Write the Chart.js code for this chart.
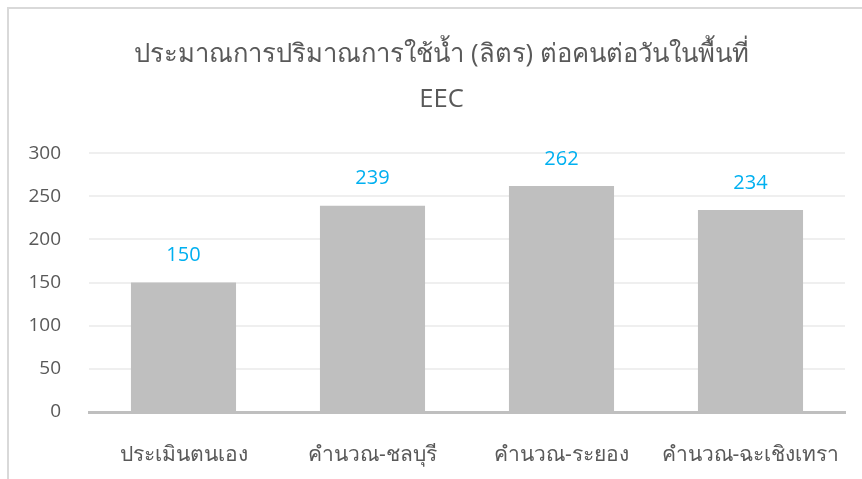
<!DOCTYPE html>
<html>
<head>
<meta charset="utf-8">
<script src="https://cdn.jsdelivr.net/npm/chart.js@4.4.0/dist/chart.umd.min.js"></script>
<style>
  html, body { margin: 0; padding: 0; background: #fff; }
  #wrap { position: relative; width: 862px; height: 479px; }
  #frame { position: absolute; left: 7px; top: 7px; right: 0; bottom: 0;
           border-left: 2px solid #D9D9D9; border-top: 2px solid #D9D9D9; pointer-events: none; }
  canvas { position: absolute; left: 0; top: 0; }
</style>
</head>
<body>
<div id="wrap">
  <canvas id="c" width="862" height="479"></canvas>
  <div id="frame"></div>
</div>
<script>
const titleLines = ['ประมาณการปริมาณการใช้น้ำ (ลิตร) ต่อคนต่อวันในพื้นที่', 'EEC'];
const categories = ['ประเมินตนเอง', 'คำนวณ-ชลบุรี', 'คำนวณ-ระยอง', 'คำนวณ-ฉะเชิงเทรา'];
const waterUse = [150, 239, 262, 234];
const yTicks = [0, 50, 100, 150, 200, 250, 300];

const FONT = "'Open Sans', 'Noto Sans', sans-serif";

const valueLabels = {
  id: 'valueLabels',
  afterDatasetsDraw(chart) {
    const ctx = chart.ctx;
    const meta = chart.getDatasetMeta(0);
    ctx.save();
    ctx.fillStyle = '#00B0F0';
    ctx.font = "20px " + FONT;
    ctx.textAlign = 'center';
    ctx.textBaseline = 'middle';
    meta.data.forEach((bar, i) => {
      ctx.fillText(String(chart.data.datasets[0].data[i]), bar.x, bar.y - 27);
    });
    ctx.restore();
  }
};

// centre the title over the framed chart box rather than the padded layout width
const titleShift = {
  id: 'titleShift',
  afterLayout(chart) {
    if (chart.titleBlock) { chart.titleBlock.left += 38; }
  }
};

new Chart(document.getElementById('c'), {
  type: 'bar',
  data: {
    labels: categories,
    datasets: [{
      data: waterUse,
      backgroundColor: '#BFBFBF',
      borderWidth: 0,
      categoryPercentage: 1,
      barPercentage: 0.556
    }]
  },
  options: {
    responsive: false,
    animation: false,
    devicePixelRatio: 1,
    layout: { padding: { left: 0, right: 17, top: 0, bottom: 0 } },
    plugins: {
      legend: { display: false },
      tooltip: { enabled: false },
      title: {
        display: true,
        text: titleLines,
        color: '#595959',
        font: { family: FONT, size: 25.6, weight: 'normal', lineHeight: 1.76 },
        padding: { top: 32, bottom: 31 }
      }
    },
    scales: {
      x: {
        grid: { display: false, drawTicks: false },
        border: { display: true, color: '#BFBFBF', width: 3 },
        ticks: { color: '#595959', font: { family: FONT, size: 21 }, padding: 30, maxRotation: 0 },
        afterFit(scale) { scale.height = 67; scale.paddingLeft = 0; scale.paddingRight = 0; }
      },
      y: {
        min: 0, max: 300,
        afterBuildTicks(scale) { scale.ticks = yTicks.map(v => ({ value: v })); },
        grid: { color: '#EFEFEF', lineWidth: 2, drawTicks: false },
        border: { display: false },
        ticks: { color: '#595959', font: { family: FONT, size: 19 }, padding: 28 },
        afterFit(scale) { scale.width = 89; scale.paddingTop = 0; scale.paddingBottom = 0; }
      }
    }
  },
  plugins: [valueLabels, titleShift]
});
</script>
</body>
</html>
